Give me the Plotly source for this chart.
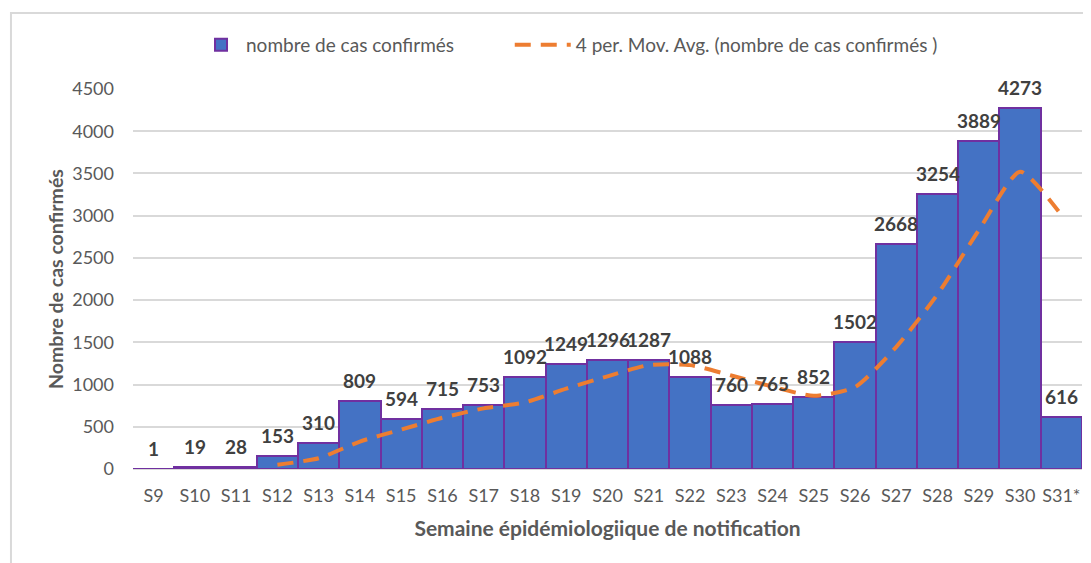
import plotly.graph_objects as go

weeks = ["S9", "S10", "S11", "S12", "S13", "S14", "S15", "S16", "S17", "S18", "S19", "S20",
         "S21", "S22", "S23", "S24", "S25", "S26", "S27", "S28", "S29", "S30", "S31*"]
cases = [1, 19, 28, 153, 310, 809, 594, 715, 753, 1092, 1249, 1296,
         1287, 1088, 760, 765, 852, 1502, 2668, 3254, 3889, 4273, 616]
ma_weeks = weeks[3:]
ma_values = [50.25, 127.5, 325, 466.5, 607, 717.75, 788.5, 952.25, 1097.5, 1231, 1230,
             1107.75, 975, 866.25, 969.75, 1446.75, 2069, 2828.25, 3521, 3008]
y_ticks = [0, 500, 1000, 1500, 2000, 2500, 3000, 3500, 4000, 4500]

FONT = "Lato, Open Sans, sans-serif"
GREY = "#595959"

fig = go.Figure()
fig.add_trace(go.Bar(
    x=weeks, y=cases, name="nombre de cas confirmés",
    marker=dict(color="#4472C4", line=dict(color="#7030A0", width=2)),
    legend="legend",
))
fig.add_trace(go.Scatter(
    x=ma_weeks, y=ma_values, name="4 per. Mov. Avg. (nombre de cas confirmés )",
    mode="lines", line=dict(color="#ED7D31", width=4, dash="16px,10px", shape="spline", smoothing=0.6),
    legend="legend2",
))

annotations = [dict(x=w, y=v, xref="x", yref="y", text="<b>%d</b>" % v, showarrow=False,
                    yanchor="bottom", yshift=7,
                    font=dict(family=FONT, size=19, color="#404040"))
               for w, v in zip(weeks, cases)]

legend_common = dict(orientation="h", y=1.116, yanchor="middle",
                     font=dict(size=19, color=GREY), bgcolor="rgba(0,0,0,0)")

fig.update_layout(
    width=1083, height=555,
    margin=dict(l=125, r=9, t=81, b=94, autoexpand=False),
    paper_bgcolor="white", plot_bgcolor="white",
    bargap=0,
    font=dict(family=FONT, color=GREY, size=18),
    showlegend=True,
    legend=dict(x=0.0664, xanchor="left", itemwidth=40, **legend_common),
    legend2=dict(x=0.397, xanchor="left", itemwidth=56, **legend_common),
    annotations=annotations,
    xaxis=dict(tickfont=dict(size=18, color=GREY), showgrid=False, showline=False,
               ticks="", ticklabelstandoff=14, automargin=False,
               title=dict(text="<b>Semaine épidémiologiique de notification</b>",
                          font=dict(size=21, color=GREY), standoff=16)),
    yaxis=dict(range=[0, 4500], tickvals=y_ticks, tickfont=dict(size=18, color=GREY),
               gridcolor="#D9D9D9", gridwidth=1.5, zeroline=True, zerolinecolor="#D9D9D9",
               zerolinewidth=1.5, ticks="", ticklabelstandoff=18, automargin=False,
               title=dict(text="<b>Nombre de cas confirmés</b>", font=dict(size=19.5, color=GREY),
                          standoff=3)),
    shapes=[dict(type="rect", xref="paper", yref="paper", x0=-0.1286, x1=1.1, y0=-0.3, y1=1.2,
                 line=dict(color="#D9D9D9", width=2), fillcolor="rgba(0,0,0,0)", layer="below")],
)

fig.write_html("out.html")
